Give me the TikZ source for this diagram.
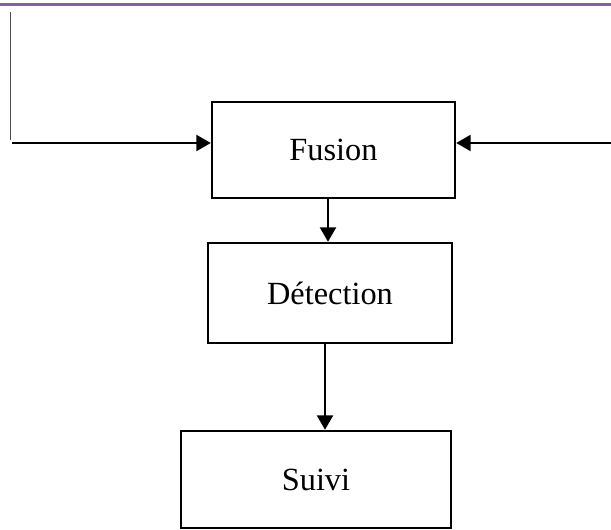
\documentclass[tikz,border=0pt]{standalone}
\usepackage{fontspec}
\setmainfont{Liberation Serif}
\usetikzlibrary{arrows.meta,positioning,calc}
\definecolor{bandpurple}{RGB}{128,100,162}
\tikzset{
bloc/.style={draw,line width=1.7pt,minimum height=2.4cm,inner sep=0pt,font=\fontsize{23}{27}\selectfont},
fleche/.style={line width=1.5pt,-{Triangle[length=0.36cm,width=0.4cm]}}
}
\begin{document}
\begin{tikzpicture}[x=0.025cm,y=-0.025cm]
\useasboundingbox (0,0) rectangle (611,530);
\draw[bandpurple,line width=2.1pt] (0,4.5) -- (611,4.5);
\node[bloc,minimum width=6.075cm] (fusion) at (333.5,150) {Fusion};
\node[bloc,minimum width=6.1cm,minimum height=2.5cm] (detection) at (330,293) {Détection};
\node[bloc,minimum width=6.75cm,minimum height=2.425cm] (suivi) at (316,479.5) {Suivi};
\coordinate (entreeG) at (12,143);
\coordinate (entreeD) at (611,143);
\coordinate (haut) at (10,12);
\coordinate (bas) at (10,140);
\coordinate (axeA) at (328,0);
\coordinate (axeB) at (325,0);
\draw[gray!60!black,line width=0.6pt] (haut) -- (bas);
\draw[fleche] (entreeG) -- (entreeG -| fusion.west);
\draw[fleche] (entreeD) -- (entreeD -| fusion.east);
\draw[fleche] (fusion.south -| axeA) -- (detection.north -| axeA);
\draw[fleche] (detection.south -| axeB) -- (suivi.north -| axeB);
\end{tikzpicture}
\end{document}
